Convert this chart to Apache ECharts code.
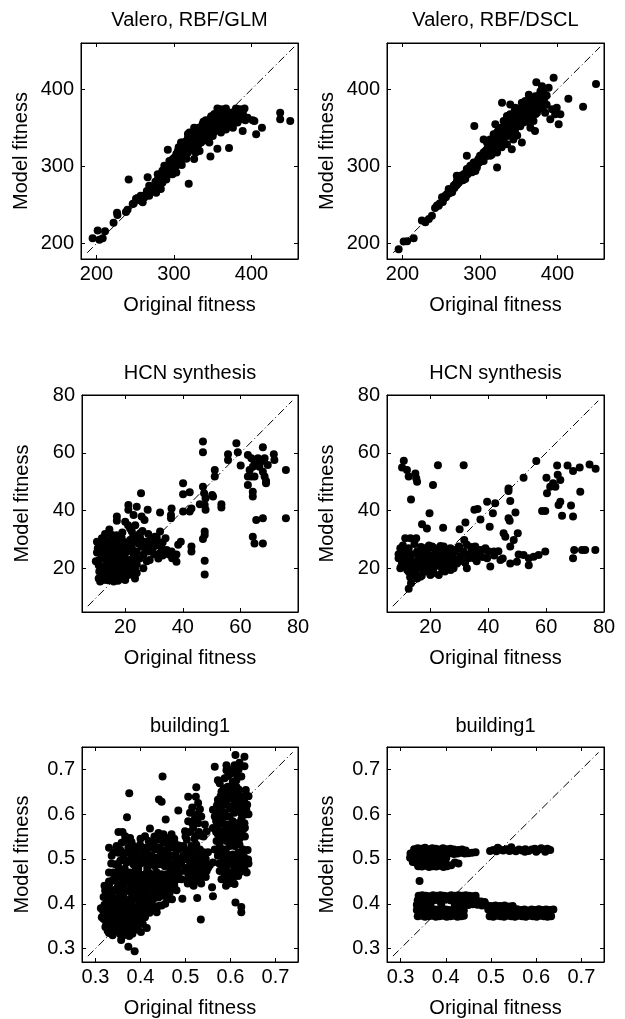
<!DOCTYPE html>
<html><head><meta charset="utf-8">
<script src="https://cdn.jsdelivr.net/npm/echarts@6/dist/echarts.min.js"></script>
<style>html,body{margin:0;padding:0;background:#fff}#c{width:625px;height:1019px}</style>
</head><body><div id="c"></div>
<script>
// ---------------- data ----------------
const panelTitles = ['Valero, RBF/GLM','Valero, RBF/DSCL','HCN synthesis','HCN synthesis','building1','building1'];
const xAxisName = 'Original fitness';
const yAxisName = 'Model fitness';

const valeroRange = [180, 460], valeroStep = 100;
const hcnRange = [5, 80], hcnStep = 20;
const buildRange = [0.27, 0.75], buildStep = 0.1;

const valeroDiag = [[188,188],[455,455]];
const hcnDiag = [[7,7],[78,78]];
const buildDiag = [[0.283,0.283],[0.738,0.738]];

const valeroGlm = [
[195,207],[201.5,217],[203.7,205],[208,207],[211,216],[222,227],[226.5,240],[227,237],[238,241],[240,244],[241.5,283],[246.7,251.4],[253,259],[257,262],[259.6,253.5],[264,264],[266,267],[268,275],[266,286],[272.5,270.7],[277,277],[281,279.4],[283,270.7],[279,290],[285,294.4],[287.5,301],[292,296.6],[294,307],[292,321.5],[300.4,303],[298,290],[305,313.8],[307,322.4],[309,309.5],[311,331],[313,318],[320,344],[317.6,331],[322,335],[324,326.7],[326,344],[328,346],[330.5,335],[333,320],[319,277.6],[326,309.5],[335,331],[337,337.4],[339,348],[341,360],[343,344],[345.6,331],[347,313],[350,339.6],[352,352.5],[354,365],[356,375],[358.5,356.8],[360.6,344],[356,323],[363,361],[367,375],[369,352.5],[371,324],[373.5,361],[378,367.5],[380,375],[382,356.8],[386,369.7],[391,375],[388.6,346],[395,363],[401.5,360],[403.7,359],[406,341.7],[413.5,350.3],[437,369.7],[437,361],[450,359],
[251,258],[255,256],[262,260],[270,269],[275,275],[279,283],[283,288],[288,290],[290,294],[294,299],[296,305],[298,309],[300,311],[303,316],[305,320],[309,318],[311,322],[313,327],[316,333],[318,337],[320,331],[322,342],[324,340],[326,335],[328,331],[331,342],[333,344],[335,348],[337,344],[339,340],[341,346],[343,352],[346,359],[348,355],[350,348],[352,361],[354,357],[356,363],[359,370],[361,368],[363,353],[365,361],[367,365],[369,370],[371,361],[374,355],[376,365],[378,361],[382,363],[384,368],[365,372],[361,374],[352,368],[348,344],[343,335],[335,340],[331,327],[322,322],[318,318],[313,312],[307,305],[303,301],[296,294],[290,283],[285,279],[277,266],[309,331],[326,350],[337,355],[348,365],[356,348],[367,348],[376,350],[303,292],[293,290],
[248,252],[258,258],[265,268],[268,262],[273,272],[276,280],[280,276],[282,285],[286,284],[289,297],[292,289],[295,303],[297,296],[299,305],[301,307],[302,312],[304,308],[306,316],[308,313],[310,325],[312,315],[314,330],[315,321],[317,326],[319,335],[321,327],[323,337],[325,345],[327,340],[329,348],[330,338],[332,350],[334,336],[336,352],[338,358],[340,350],[342,357],[344,340],[345,350],[347,362],[349,358],[351,365],[353,350],[355,368],[357,360],[358,352],[360,364],[362,372],[364,366],[366,356],[368,362],[370,368],[372,358],[375,370],[377,357],[379,372],[381,366],[383,360],[385,374],[387,362],[389,368],[392,360],[340,334],[332,330],[324,322],[316,310],[310,302],[328,318],[344,345],[352,345],[360,352],[334,344],[318,342],[306,325]
];

const valeroDscl = [
[195,192.5],[201.5,202.8],[206,203],[214.4,207],[225,230],[229.5,227.8],[234,232],[238,236],[242,246],[246.7,249],[251,260],[255,262],[259.6,270.7],[264,266.5],[268,277],[270,288],[272.5,279],[277,283.7],[281,290],[283,314],[285,294],[289.7,301],[292.7,352.5],[296,305],[294,294],[302.6,311.6],[304.7,335],[307,320],[309,314],[311,327],[313,335],[317.6,341.7],[319.8,354.6],[322,298.7],[324,331],[326,344],[328.4,382.6],[330.5,359],[332.7,348],[335,339.6],[337,352.5],[339,380.4],[341,363],[341,322.4],[343,335],[348,367.5],[350,374],[352,356.8],[354,331],[356,371.8],[360.6,380.4],[363,393],[365,350],[369,359],[371,346],[372.7,409],[373.5,369.7],[375.7,382.6],[378,397.6],[380,404],[384,369.7],[388.6,402],[390.7,361],[393,374],[395,414.8],[397,367.5],[399,376],[401.5,354.6],[403.7,367.5],[414,387.7],[433,377.4],[449.7,407],
[244.5,249.3],[253,258],[257.4,264.3],[261.7,268.6],[266,275],[270.3,281.5],[274.6,288],[279,290],[283,296.6],[287.5,301],[291.8,305],[298,309.5],[300,313.8],[304.7,318],[309,322.4],[311,320],[315.5,328.8],[317.6,331],[319.8,337.4],[322,344],[324,348],[326,339.6],[328,333],[330.5,348],[332.7,356.8],[334.8,352.5],[337,361],[339,367.5],[341,356.8],[343,352.5],[345.6,363],[347.7,361],[350,367.5],[352,371.8],[354,365.4],[356,378],[358.5,374],[360.6,369.7],[362.8,376],[365,382.6],[367,378],[369,384.7],[371.4,376],[373.5,380.4],[375.7,386.9],[377.8,389],[380,384.7],[330.5,331],[334.8,328.8],[339,344],[343,344],[350,352.5],[356,356.8],[360.6,359],[365,363],[369,371.8],[313,313.8],[304.7,307],[296,298.7],[289.7,292.3],[281,283.7],[309,331],[317.6,322.4],[326,326.7],[334.8,365.4],[345.6,376],[354,382.6],[371.4,391],[358.5,384.7],
[248,252],[252,254],[256,260],[260,265],[263,270],[267,272],[270,276],[273,283],[276,286],[278,282],[282,292],[284,290],[286,298],[289,296],[292,302],[294,300],[297,307],[299,305],[301,310],[303,315],[306,313],[308,318],[310,322],[312,318],[314,325],[316,333],[318,328],[320,340],[321,333],[323,338],[325,345],[327,350],[329,343],[331,352],[333,346],[335,356],[336,348],[338,360],[340,352],[342,365],[344,358],[346,368],[348,357],[350,371],[352,364],[354,376],[356,366],[358,378],[360,372],[362,382],[364,374],[366,386],[368,378],[370,388],[372,382],[374,376],[376,392],[378,385],[380,394],[383,388],[386,380],[330,336],[326,330],[318,320],[340,340],[346,350],[355,358],[362,366],[368,368],[375,380],[335,364],[345,374],
[345,345],[350,360],[355,365],[360,365],[365,372],[370,375],[372,368],[366,378],[362,358],[358,362],[352,352],[348,340],[342,348],[338,350],[333,340],[328,325],[322,318],[315,315],[377,375],[380,378],[384,380],[386,392],[382,398]
];

const hcnGlm = [
[47,63.9],[47,60.2],[58.6,63.3],[59.1,60.2],[55.7,59.5],[55.7,57.5],[60.1,55.6],[62.6,59.3],[63.8,58.1],[67.8,61.9],[71.6,59.5],[71.8,57.5],[64.9,57],[66.1,58.1],[67.2,57],[68.4,58.1],[69.5,55.8],[64.3,55.2],[63.2,54.1],[62.6,51.8],[63.8,51.8],[64.9,51.8],[62.6,48.9],[64.3,46.6],[64.3,44.9],[68.4,51.8],[68.9,50.3],[68.9,49.5],[66.6,55.2],[67.8,53.5],[75.8,54.1],[75.8,37.4],[65.5,36.8],[67.8,37.4],[64.3,31],[64.9,28.7],[67.8,28.7],
[51.1,54.1],[51.1,51.8],[40.1,49.5],[40.1,45.7],[42.4,46.4],[47,48.3],[47.4,46],[47.9,44.3],[45.9,42.2],[50.2,45.4],[50.5,44.9],[53.4,42.2],[53.4,41.1],[47.6,42],[47.9,40.3],[43,40.8],[42.4,39.7],[40.1,39.7],[36.1,40.8],[35.9,38.5],[35.9,37.4],[32.1,39.4],[25.5,46],[24,41.4],[21.1,42],[21.1,40.3],[27.8,40.3],[22.9,38.5],[25.7,38],[26.7,36.8],[17.1,38],[17.1,36.5],[20,36.2],[21.7,33.9],[22.3,32.8],[25.2,32.2],[32.1,32.8],[30.9,31],[29.2,30.5],[47.6,32.8],[47.6,31.6],[47,30.2],[39.3,29.3],[38.4,28.2],[43,27.6],[43,25.9],[32.6,27],[32.1,25.3],[34.4,26.4],[35.2,24.9],[36.1,25.9],[37.8,24.9],[37.8,22.4],[36.3,23.6],[47.6,22.7],[47.6,18],
[10.2,29.3],[10.2,25.6],[10.8,21.2],[11.3,27.6],[11.9,30.5],[12.5,28.7],[13.1,24.7],[13.6,22.4],[14.2,20.1],[10.8,16.6],[11.3,15.5],[12.5,16.1],[13.6,17.2],[14.8,18.4],[15.4,16.1],[16.5,17.2],[17.7,17.8],[18.8,16.6],[20,16.1],[21.1,17.8],[22.9,17.8],[15.4,22.4],[15.9,24.7],[16.5,26.4],[17.1,28.2],[17.7,30.5],[18.2,25.9],[18.8,23.6],[19.4,21.2],[20,23],[20.6,25.9],[21.1,28.2],[21.7,29.9],[22.3,27],[22.9,24.7],[23.4,23],[24,25.9],[24.6,28.7],[25.2,30.5],[25.7,27.6],[26.3,24.7],[26.3,20.1],[27.5,27.6],[28,29.3],[29.2,29.9],[30.3,31],[12.5,20.7],[11.9,23.6],[13.1,18.4],[14.2,27],[14.8,29.3],[15.4,31.6],[16.5,21.2],[17.7,20.1],[18.2,22.4],[20,19.5],[22.3,21.2],[23.4,20.1],[21.1,21.8],[19.4,28.2],[15.9,30.5],[17.1,23],[14.2,23.6],[11.9,25.9],[18.8,30.5],[23.4,29.3],[28,25.9],[29.2,27.6],[26.9,29.3],[23.4,16.6],[11.9,17.8],[16.5,18.9],
[10.5,27],[11,23],[12,19],[12.8,26.5],[13.5,29.8],[14.5,25.5],[15,20],[16,28.5],[16.8,23.8],[17.5,15.8],[18.5,27.5],[19,19],[19.8,24.5],[20.5,29],[21.5,23],[22,19.5],[22.5,30.5],[23,26],[24,21.5],[24.5,31.5],[25,23.5],[26,29],[27,26],[27.5,22.5],[28.5,28.5],[29.5,26.5],[30.5,28],[31,30],[12,28],[14,16],[16,15.5],[18,21],[20.5,21],[13,32],[19,32.5],[21,35],[23.5,35],[26,33],[28,32],[14.5,33.5],[17,31.5],[11,19],[9.8,22.5],[24,18.5],[19.5,17],[33,29],[34,30.5],[30,25],[31.5,23.5],[33,24.5],[28.5,23]
];

const hcnDscl = [
[10.8,57.3],[10.2,54.9],[11.9,54.1],[12.5,51.8],[14.8,52.9],[15.1,51.2],[15.4,50],[13.3,43.9],[22.6,55.7],[31.5,55.7],[20.9,48.9],[19.7,39.1],[17.1,35.3],[18.8,33.9],[24.4,34.1],[30.1,33.6],[32.1,35.9],[31.7,29.9],
[56.6,57.2],[52.2,51.4],[47,47.7],[47,46.8],[47.6,43.4],[39.6,43.1],[42.4,42.6],[35.2,40.3],[36.3,40.6],[41.6,39.1],[37.3,37],[40.5,34.5],[47,37.4],[47.4,36.5],[49.4,39.4],[45.3,32.2],[45.9,31],[50.2,32.2],[48.8,29.9],[47.6,27.6],[50.5,24.9],[52.2,24.7],[54,23.6],[54,21.2],[55.7,24.1],[57.4,24.7],[59.7,25.9],[47.6,21.8],[49.9,22.4],[44.2,23],[40.7,20.7],[41.9,25.9],
[63.8,55.6],[67.4,55.6],[69.3,53.7],[71.6,54.9],[75,56],[77.1,54.5],[60.1,51.4],[64,52.4],[64.9,50.6],[62.4,49.5],[61.4,48.3],[63.2,48.3],[60.3,46],[71.8,46.6],[64.9,43.1],[64.3,42],[68.6,41.8],[58.6,39.9],[59.7,39.9],[65.5,38.3],[69.3,38],[69.7,26.4],[72.4,26.4],[73.5,26.4],[77,26.4],[69.3,23.6],
[9.6,27],[9,23.6],[10.2,22.4],[9.6,20.1],[11.3,30.5],[13.1,30.5],[15.1,30.5],[11.9,25.9],[13.1,23],[13.6,20.7],[14.2,18.4],[15.4,16.6],[16.5,25.9],[17.1,22.4],[17.7,19.5],[18.8,24.7],[19.4,27],[20,22.4],[21.1,20.1],[21.7,25.9],[22.3,23.6],[22.9,17.8],[23.4,21.8],[24,24.7],[25.2,25.9],[25.7,23],[26.3,20.1],[27.5,24.7],[28.6,25.9],[29.2,21.8],[30.3,24.1],[31.5,25.9],[32.6,20.1],[33.2,23.6],[34.4,25.9],[35,23.6],[36.7,24.7],[37.8,26.4],[39,27],[39.6,23.6],[15.9,23.6],[14.8,21.8],[12.5,18.9],[18.2,27],[20.6,27.6],[24.6,27.6],[26.9,27],[32.6,28.2],[28,20.1],[18.8,21.2],[16.5,17.2],[13.3,14.9],[12.5,13],[10.8,25.3],[11.3,21.2],[15.4,25.9],[17.7,23.6],[21.1,23.6],[23.4,25.9],[25.7,21.2],[20,17.8],[22.3,25.9],[29.8,27.6],[35.5,27.6],
[9,25],[10,21],[10.5,28],[11.5,23],[12,19.5],[12.5,27],[13.5,25],[14,22.5],[14.5,28.5],[15.5,20],[16,24],[16.8,27.5],[17.5,21.5],[18,25.5],[18.5,19],[19,23],[19.5,28],[20.5,24.5],[21,18.5],[21.5,27],[22,21],[23,24],[23.5,27.8],[24.5,22.5],[25,19],[25.5,26],[26.5,24],[27,21.5],[28,23.5],[29,26.5],[30,22.5],[31,24.5],[32,22],[33.5,25],[34,27.5],[36,22.5],[38,24],[40,26],[42,24.5],[43.5,26],[45,23.5],[13,17],[15,18],[17,17.5],[20,20],[24,20],[27,19.5],[11,24.5],[16,26],[22,26],[30,27.5],[36.5,26.5]
];

const buildGlm = [
[0.373,0.304],[0.387,0.294],[0.357,0.319],[0.375,0.647],[0.37,0.593],[0.449,0.684],[0.441,0.633],[0.447,0.628],[0.456,0.588],[0.484,0.608],[0.421,0.568],[0.351,0.56],[0.431,0.55],[0.493,0.411],[0.526,0.413],[0.534,0.365],[0.561,0.417],[0.559,0.437],[0.611,0.403],[0.624,0.393],[0.624,0.381],[0.414,0.346],[0.401,0.337],
[0.565,0.706],[0.591,0.709],[0.611,0.732],[0.631,0.728],[0.631,0.707],[0.609,0.709],[0.591,0.698],[0.572,0.676],[0.576,0.669],[0.613,0.691],[0.624,0.684],[0.634,0.654],[0.635,0.643],[0.637,0.621],
[0.524,0.66],[0.506,0.639],[0.523,0.639],[0.528,0.625],[0.532,0.611],[0.51,0.603],[0.506,0.584],[0.521,0.591],[0.528,0.58],[0.517,0.569],[0.543,0.577],[0.547,0.562],[0.535,0.552],[0.524,0.552],[0.499,0.562],[0.503,0.543],[0.495,0.529],[0.495,0.507],[0.506,0.518],[0.513,0.529],[0.524,0.532],[0.532,0.521],[0.535,0.507],[0.521,0.503],[0.51,0.492],[0.521,0.484],[0.532,0.496],[0.539,0.484],[0.547,0.473],[0.554,0.486],[0.55,0.515],[0.561,0.492],[0.499,0.473],[0.506,0.459],[0.513,0.451],[0.524,0.451],[0.51,0.47],[0.524,0.466],[0.539,0.47],[0.535,0.459],[0.491,0.492],[0.491,0.455],
[0.572,0.632],[0.58,0.65],[0.583,0.632],[0.594,0.661],[0.605,0.672],[0.613,0.661],[0.617,0.647],[0.602,0.639],[0.591,0.621],[0.598,0.617],[0.609,0.625],[0.62,0.632],[0.628,0.617],[0.561,0.61],[0.565,0.595],[0.576,0.606],[0.587,0.603],[0.598,0.595],[0.609,0.603],[0.62,0.606],[0.631,0.599],[0.624,0.588],[0.617,0.58],[0.605,0.584],[0.594,0.577],[0.583,0.58],[0.572,0.573],[0.561,0.569],[0.572,0.555],[0.583,0.562],[0.594,0.558],[0.605,0.566],[0.617,0.562],[0.628,0.566],[0.624,0.551],[0.613,0.543],[0.602,0.547],[0.591,0.54],[0.58,0.543],[0.576,0.529],[0.587,0.521],[0.598,0.529],[0.609,0.529],[0.62,0.532],[0.628,0.521],[0.617,0.514],[0.605,0.51],[0.594,0.507],[0.583,0.503],[0.572,0.507],[0.58,0.488],[0.591,0.484],[0.602,0.492],[0.613,0.496],[0.624,0.496],[0.635,0.492],[0.631,0.477],[0.62,0.481],[0.609,0.477],[0.598,0.47],[0.587,0.466],[0.576,0.473],[0.58,0.455],[0.591,0.451],[0.602,0.459],[0.609,0.444],[0.598,0.446],[0.617,0.462],[0.605,0.647],[0.613,0.676],[0.587,0.68],[0.58,0.621],[0.639,0.499],[0.631,0.58],[0.569,0.54],[0.565,0.521],
[0.41,0.551],[0.418,0.54],[0.429,0.536],[0.44,0.543],[0.451,0.536],[0.462,0.547],[0.469,0.555],[0.476,0.536],[0.484,0.521],[0.473,0.525],[0.462,0.529],[0.454,0.518],[0.443,0.525],[0.432,0.521],[0.421,0.525],[0.414,0.514],[0.425,0.507],[0.436,0.503],[0.447,0.507],[0.458,0.499],[0.469,0.507],[0.48,0.499],[0.476,0.484],[0.465,0.484],[0.454,0.484],[0.443,0.488],[0.432,0.484],[0.421,0.488],[0.41,0.492],[0.414,0.47],[0.425,0.466],[0.436,0.47],[0.447,0.466],[0.458,0.466],[0.469,0.466],[0.48,0.47],[0.476,0.451],[0.465,0.451],[0.454,0.451],[0.443,0.448],[0.432,0.451],[0.421,0.448],[0.425,0.433],[0.436,0.429],[0.447,0.433],[0.458,0.437],[0.469,0.437],[0.44,0.414],[0.451,0.418],[0.429,0.411],[0.425,0.403],[0.436,0.381],[0.447,0.396],[0.414,0.425],[0.451,0.555],[0.44,0.558],[0.403,0.518],[0.484,0.484],[0.399,0.532],
[0.366,0.551],[0.377,0.547],[0.358,0.536],[0.384,0.529],[0.373,0.525],[0.347,0.529],[0.336,0.507],[0.351,0.514],[0.362,0.507],[0.381,0.51],[0.392,0.507],[0.344,0.488],[0.355,0.496],[0.369,0.492],[0.384,0.488],[0.395,0.492],[0.34,0.47],[0.351,0.473],[0.362,0.466],[0.377,0.47],[0.388,0.473],[0.399,0.466],[0.336,0.451],[0.347,0.455],[0.358,0.448],[0.369,0.451],[0.381,0.455],[0.392,0.451],[0.403,0.448],[0.322,0.429],
[0.322,0.43],[0.33,0.44],[0.345,0.432],[0.358,0.438],[0.372,0.43],[0.388,0.436],[0.40,0.428],[0.318,0.415],[0.335,0.42],[0.348,0.412],[0.362,0.418],[0.377,0.41],[0.39,0.42],[0.405,0.414],[0.32,0.398],[0.331,0.404],[0.342,0.395],[0.354,0.401],[0.366,0.392],[0.379,0.399],[0.391,0.393],[0.403,0.401],[0.414,0.405],[0.317,0.384],[0.328,0.378],[0.339,0.386],[0.35,0.38],[0.361,0.386],[0.373,0.377],[0.385,0.383],[0.397,0.378],[0.409,0.385],[0.318,0.366],[0.329,0.36],[0.34,0.368],[0.351,0.362],[0.362,0.37],[0.374,0.36],[0.386,0.367],[0.398,0.36],[0.322,0.348],[0.334,0.343],[0.346,0.35],[0.357,0.344],[0.369,0.352],[0.381,0.343],[0.393,0.35],[0.33,0.335],[0.343,0.338],[0.355,0.332],[0.368,0.337],[0.382,0.333],[0.314,0.37],[0.312,0.39],[0.41,0.37],[0.405,0.355],[0.415,0.44],[0.36,0.405],[0.345,0.37],
[0.325,0.422],[0.338,0.428],[0.352,0.425],[0.365,0.427],[0.38,0.424],[0.395,0.43],[0.41,0.425],[0.326,0.408],[0.341,0.405],[0.355,0.41],[0.37,0.404],[0.383,0.409],[0.397,0.407],[0.41,0.398],[0.325,0.39],[0.336,0.392],[0.348,0.389],[0.36,0.395],[0.372,0.389],[0.385,0.392],[0.398,0.39],[0.412,0.392],[0.322,0.375],[0.334,0.372],[0.345,0.377],[0.356,0.373],[0.367,0.378],[0.379,0.371],[0.391,0.374],[0.403,0.372],[0.324,0.357],[0.335,0.352],[0.346,0.358],[0.357,0.354],[0.368,0.36],[0.38,0.355],[0.392,0.36],[0.327,0.34],[0.338,0.345],[0.35,0.34],[0.362,0.345],[0.375,0.34],[0.388,0.342],[0.338,0.33],[0.36,0.328],[0.375,0.328],[0.35,0.44],[0.365,0.445],[0.38,0.44],[0.395,0.442],[0.33,0.45],[0.345,0.455],[0.42,0.415],[0.418,0.395],[0.416,0.43],[0.32,0.44],
[0.405,0.44],[0.412,0.455],[0.418,0.47],[0.428,0.46],[0.438,0.455],[0.445,0.44],[0.452,0.46],[0.46,0.445],[0.466,0.47],[0.474,0.46],[0.482,0.455],[0.486,0.47],[0.488,0.5],[0.478,0.51],[0.472,0.49],[0.462,0.495],[0.455,0.51],[0.448,0.495],[0.44,0.5],[0.43,0.495],[0.42,0.5],[0.415,0.48],[0.408,0.505],[0.43,0.53],[0.445,0.515],[0.46,0.52],[0.465,0.54],[0.475,0.545],[0.485,0.53],[0.45,0.55],[0.42,0.44],[0.432,0.42],[0.46,0.425],[0.41,0.525],
[0.43,0.44],[0.44,0.43],[0.455,0.43],[0.465,0.425],[0.475,0.44],[0.48,0.43],[0.47,0.41],[0.455,0.4],[0.44,0.395],[0.43,0.39],[0.42,0.38],[0.46,0.41],
[0.33,0.47],[0.342,0.462],[0.355,0.46],[0.365,0.478],[0.372,0.462],[0.385,0.462],[0.395,0.478],[0.405,0.46],[0.335,0.49],[0.35,0.485],[0.36,0.498],[0.375,0.498],[0.39,0.5],[0.4,0.49],[0.34,0.515],[0.355,0.52],[0.37,0.515],[0.385,0.518],[0.395,0.52],[0.405,0.5],[0.33,0.525],[0.365,0.54],[0.38,0.538],[0.36,0.56],[0.4,0.545],
[0.57,0.62],[0.578,0.64],[0.585,0.658],[0.59,0.645],[0.597,0.635],[0.6,0.65],[0.607,0.66],[0.612,0.64],[0.618,0.655],[0.622,0.62],[0.626,0.64],[0.63,0.63],[0.6,0.69],[0.605,0.7],[0.618,0.7],[0.62,0.715],[0.595,0.685],[0.58,0.61],[0.59,0.595],[0.6,0.612],[0.613,0.61],[0.625,0.6],[0.635,0.61],[0.568,0.585],[0.578,0.59],[0.59,0.57],[0.6,0.575],[0.61,0.57],[0.62,0.575],[0.632,0.57],[0.568,0.56],[0.578,0.55],[0.588,0.555],[0.598,0.54],[0.61,0.555],[0.62,0.545],[0.632,0.55],[0.57,0.52],[0.58,0.51],[0.59,0.515],[0.6,0.5],[0.61,0.505],[0.62,0.51],[0.63,0.505],[0.575,0.49],[0.585,0.495],[0.595,0.49],[0.607,0.485],[0.618,0.49],[0.628,0.485],[0.585,0.475],[0.597,0.46],[0.608,0.465],[0.62,0.47],[0.59,0.44],[0.605,0.455],[0.636,0.47],[0.64,0.49],[0.638,0.52],[0.64,0.6],[0.64,0.64],
[0.5,0.55],[0.51,0.56],[0.515,0.58],[0.52,0.545],[0.53,0.56],[0.54,0.55],[0.5,0.52],[0.51,0.51],[0.52,0.52],[0.53,0.51],[0.54,0.515],[0.545,0.5],[0.5,0.5],[0.515,0.495],[0.53,0.49],[0.545,0.49],[0.5,0.48],[0.515,0.48],[0.53,0.475],[0.55,0.48],[0.52,0.46],[0.505,0.445],[0.518,0.44],[0.535,0.445],[0.545,0.46],[0.525,0.6],[0.535,0.595],[0.515,0.615]
];

const buildDscl = [
[0.33,0.522],[0.338,0.524],[0.346,0.523],[0.354,0.525],[0.362,0.522],[0.37,0.524],[0.378,0.523],[0.386,0.521],[0.394,0.524],[0.402,0.522],[0.41,0.523],[0.418,0.521],[0.428,0.52],[0.436,0.521],[0.444,0.519],
[0.322,0.512],[0.33,0.513],[0.338,0.511],[0.346,0.514],[0.354,0.512],[0.362,0.513],[0.37,0.511],[0.378,0.512],[0.386,0.514],[0.394,0.511],[0.402,0.512],[0.41,0.513],[0.418,0.511],[0.426,0.512],[0.434,0.514],[0.442,0.512],[0.45,0.513],[0.458,0.514],[0.466,0.515],
[0.321,0.503],[0.329,0.501],[0.337,0.503],[0.345,0.5],[0.353,0.502],[0.361,0.501],[0.369,0.503],[0.377,0.5],[0.385,0.502],[0.393,0.501],[0.401,0.502],
[0.327,0.493],[0.335,0.491],[0.343,0.494],[0.351,0.492],[0.359,0.49],[0.367,0.493],[0.375,0.491],[0.383,0.492],[0.391,0.49],[0.399,0.493],[0.42,0.492],[0.428,0.49],
[0.339,0.484],[0.347,0.483],[0.355,0.485],[0.363,0.482],[0.371,0.484],[0.379,0.483],[0.387,0.485],[0.395,0.482],[0.403,0.484],[0.412,0.486],
[0.498,0.518],[0.505,0.52],[0.512,0.517],[0.52,0.521],[0.527,0.519],[0.534,0.522],[0.541,0.518],[0.548,0.52],[0.555,0.517],[0.562,0.521],[0.569,0.519],[0.576,0.522],[0.583,0.518],[0.59,0.521],[0.597,0.523],[0.604,0.52],[0.611,0.524],[0.618,0.521],[0.625,0.523],[0.631,0.52],[0.515,0.525],[0.545,0.526],[0.575,0.516],[0.6,0.516],[0.62,0.516],
[0.342,0.451],
[0.34,0.418],[0.348,0.419],[0.356,0.418],[0.364,0.417],[0.372,0.419],[0.38,0.418],[0.388,0.419],[0.396,0.418],[0.404,0.417],[0.412,0.419],[0.42,0.418],[0.428,0.419],[0.436,0.418],[0.444,0.419],[0.452,0.418],[0.46,0.417],[0.466,0.418],
[0.338,0.408],[0.35,0.407],[0.362,0.409],[0.374,0.408],[0.386,0.407],[0.398,0.409],[0.41,0.408],[0.422,0.407],[0.434,0.409],[0.446,0.408],[0.458,0.407],[0.47,0.406],[0.478,0.405],[0.486,0.404],
[0.336,0.398],[0.346,0.397],[0.356,0.399],[0.366,0.398],[0.39,0.398],[0.42,0.397],[0.43,0.399],[0.44,0.398],[0.45,0.397],[0.46,0.399],[0.47,0.398],[0.48,0.396],[0.49,0.397],[0.5,0.395],[0.51,0.396],[0.52,0.395],[0.53,0.396],[0.54,0.394],[0.548,0.395],
[0.336,0.386],[0.344,0.385],[0.352,0.387],[0.36,0.386],[0.368,0.385],[0.376,0.387],[0.384,0.386],[0.392,0.385],[0.4,0.387],[0.408,0.386],[0.416,0.385],[0.424,0.387],[0.432,0.386],[0.44,0.385],
[0.494,0.387],[0.502,0.386],[0.51,0.388],[0.518,0.386],[0.526,0.387],[0.534,0.385],[0.542,0.387],[0.55,0.386],[0.558,0.388],[0.566,0.386],[0.574,0.387],[0.582,0.385],[0.59,0.387],[0.598,0.386],[0.606,0.388],[0.614,0.386],[0.622,0.387],[0.63,0.386],[0.638,0.387],
[0.338,0.372],[0.346,0.373],[0.354,0.371],[0.362,0.372],[0.37,0.373],[0.378,0.371],[0.386,0.372],[0.394,0.373],[0.402,0.371],[0.41,0.372],[0.418,0.373],[0.426,0.371],[0.434,0.372],[0.44,0.373],
[0.497,0.372],[0.505,0.371],[0.513,0.373],[0.521,0.372],[0.529,0.371],[0.537,0.373],[0.545,0.372],[0.553,0.371],[0.561,0.373],[0.569,0.372],[0.577,0.371],[0.585,0.373],[0.593,0.372],[0.601,0.371],[0.609,0.373],[0.617,0.372],[0.625,0.371],[0.633,0.372]
];

// ---------------- layout ----------------
const gridBoxes = [
  {left: 81, top: 43, width: 217, height: 216},
  {left: 387, top: 43, width: 217, height: 216},
  {left: 82, top: 395, width: 216, height: 217},
  {left: 387, top: 395, width: 217, height: 217},
  {left: 82, top: 747, width: 216, height: 217},
  {left: 387, top: 747, width: 217, height: 217}
];
const titleTops = [10, 10, 363, 363, 716, 716];

const panelData = [valeroGlm, valeroDscl, hcnGlm, hcnDscl, buildGlm, buildDscl];
const panelDiag = [valeroDiag, valeroDiag, hcnDiag, hcnDiag, buildDiag, buildDiag];
const panelRange = [valeroRange, valeroRange, hcnRange, hcnRange, buildRange, buildRange];
const panelStep = [valeroStep, valeroStep, hcnStep, hcnStep, buildStep, buildStep];
const panelDigits = [0, 0, 0, 0, 1, 1];

const FONT = 'Liberation Sans, Arial, Helvetica, sans-serif';
const FS = 20;

function labelFmt(step, digits) {
  return function (v) {
    const k = v / step;
    if (Math.abs(k - Math.round(k)) > 1e-6) return '';
    return (Math.round(k) * step).toFixed(digits);
  };
}

const grid = [], xAxis = [], yAxis = [], series = [], title = [];
for (let i = 0; i < 6; i++) {
  grid.push(Object.assign({show: true, borderColor: '#000', borderWidth: 1, containLabel: false}, gridBoxes[i]));
  const r = panelRange[i], st = panelStep[i], fmt = labelFmt(st, panelDigits[i]);
  const common = {
    type: 'value', min: r[0], max: r[1], splitNumber: Math.round((r[1]-r[0])/st),
    minInterval: st, maxInterval: st, gridIndex: i,
    splitLine: {show: false},
    axisLine: {show: true, onZero: false, lineStyle: {color: '#000', width: 1}},
    axisTick: {show: true, inside: true, length: 4, lineStyle: {color: '#000', width: 1}}
  };
  xAxis.push(Object.assign({}, common, {
    position: 'bottom', name: xAxisName, nameLocation: 'middle', nameGap: 36,
    nameTextStyle: {fontFamily: FONT, fontSize: FS, color: '#000'},
    axisLabel: {show: true, formatter: fmt, margin: 5, fontFamily: FONT, fontSize: FS, color: '#000'}
  }));
  xAxis.push(Object.assign({}, common, {position: 'top', axisLabel: {show: false}}));
  yAxis.push(Object.assign({}, common, {
    position: 'left', name: yAxisName, nameLocation: 'middle', nameGap: 50,
    nameTextStyle: {fontFamily: FONT, fontSize: FS, color: '#000'},
    axisLabel: {show: true, formatter: fmt, margin: 7, fontFamily: FONT, fontSize: FS, color: '#000'}
  }));
  yAxis.push(Object.assign({}, common, {position: 'right', axisLabel: {show: false}}));

  series.push({
    type: 'line', xAxisIndex: 2*i, yAxisIndex: 2*i, data: panelDiag[i], symbol: 'none', silent: true, z: 1,
    lineStyle: {color: '#000', width: 1, type: [8, 3, 1, 3]}
  });
  series.push({
    type: 'scatter', xAxisIndex: 2*i, yAxisIndex: 2*i, data: panelData[i], symbol: 'circle', symbolSize: 8, z: 2,
    itemStyle: {color: '#000', opacity: 1}
  });
  const g = gridBoxes[i];
  title.push({
    text: panelTitles[i], left: g.left + g.width / 2, top: titleTops[i], padding: 0,
    textAlign: 'center', textVerticalAlign: 'top',
    textStyle: {fontFamily: FONT, fontSize: FS, fontWeight: 'normal', color: '#000'}
  });
}

const chart = echarts.init(document.getElementById('c'), null, {renderer: 'canvas'});
chart.setOption({animation: false, backgroundColor: '#fff', title, grid, xAxis, yAxis, series});
</script>
</body></html>
